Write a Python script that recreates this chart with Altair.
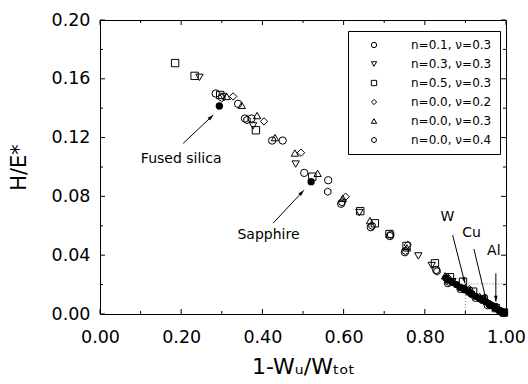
import math
import altair as alt
import pandas as pd

FONT = "DejaVu Sans"
PW, PH = 406, 294
X_MAX, Y_MAX = 1.0, 0.20

series_labels = ["n=0.1, ν=0.3", "n=0.3, ν=0.3", "n=0.5, ν=0.3",
                 "n=0.0, ν=0.2", "n=0.0, ν=0.3", "n=0.0, ν=0.4"]
HEX = "M0,-1L0.866,-0.5L0.866,0.5L0,1L-0.866,0.5L-0.866,-0.5Z"
series_shapes = ["circle", "triangle-down", "square", "diamond", "triangle-up", HEX]

s1_x = [0.285, 0.340, 0.357, 0.373, 0.424, 0.450, 0.503, 0.562, 0.594, 0.667, 0.714, 0.751, 0.828, 0.857, 0.888, 0.925, 0.955, 0.985]
s1_y = [0.150, 0.143, 0.133, 0.133, 0.118, 0.118, 0.096, 0.091, 0.075, 0.059, 0.053, 0.042, 0.030, 0.021, 0.017, 0.011, 0.006, 0.002]
s2_x = [0.245, 0.303, 0.377, 0.482, 0.639, 0.784, 0.817, 0.868, 0.905, 0.940, 0.970, 0.993]
s2_y = [0.161, 0.148, 0.128, 0.102, 0.069, 0.0395, 0.033, 0.022, 0.016, 0.010, 0.005, 0.001]
s3_x = [0.185, 0.233, 0.296, 0.384, 0.523, 0.641, 0.677, 0.713, 0.755, 0.825, 0.862, 0.894, 0.919, 0.945, 0.975, 0.995]
s3_y = [0.1707, 0.162, 0.149, 0.125, 0.0934, 0.070, 0.0617, 0.0544, 0.0463, 0.0345, 0.025, 0.022, 0.0152, 0.010, 0.004, 0.001]
s4_x = [0.328, 0.404, 0.495, 0.605, 0.758, 0.856, 0.910, 0.950, 0.980]
s4_y = [0.148, 0.131, 0.1097, 0.0798, 0.047, 0.025, 0.017, 0.009, 0.003]
s5_x = [0.312, 0.349, 0.387, 0.431, 0.480, 0.536, 0.598, 0.665, 0.756, 0.850, 0.900, 0.935, 0.965, 0.990]
s5_y = [0.148, 0.142, 0.135, 0.120, 0.1095, 0.0957, 0.0787, 0.0635, 0.045, 0.026, 0.018, 0.012, 0.006, 0.002]
s6_x = [0.300, 0.362, 0.561, 0.596, 0.670, 0.716, 0.752, 0.830, 0.858, 0.915, 0.960, 0.990]
s6_y = [0.147, 0.132, 0.0832, 0.076, 0.060, 0.054, 0.043, 0.029, 0.022, 0.014, 0.006, 0.001]

exp_x = [0.294, 0.520, 0.852, 0.858, 0.868, 0.878, 0.888, 0.898, 0.908, 0.915, 0.925, 0.935, 0.942, 0.950, 0.958, 0.965, 0.972, 0.978, 0.984, 0.990, 0.996]
exp_y = [0.1415, 0.090, 0.0245, 0.023, 0.0215, 0.020, 0.018, 0.0165, 0.015, 0.0135, 0.012, 0.0105, 0.0095, 0.0083, 0.007, 0.0058, 0.0045, 0.0035, 0.0025, 0.0015, 0.0006]

ann_text = ["Fused silica", "Sapphire", "W", "Cu", "Al"]
ann_x = [0.200, 0.415, 0.856, 0.915, 0.970]
ann_y = [0.1025, 0.0508, 0.063, 0.0527, 0.0401]

arr_x1 = [0.205, 0.427, 0.8685, 0.921, 0.975]
arr_y1 = [0.1161, 0.062, 0.0537, 0.0442, 0.0277]
arr_x2 = [0.279, 0.502, 0.899, 0.951, 0.975]
arr_y2 = [0.1354, 0.0841, 0.0209, 0.0095, 0.0084]

guide_x1 = [0.9, 0.9]
guide_y1 = [0.0205, 0.0]
guide_x2 = [1.0, 0.9]
guide_y2 = [0.0205, 0.0205]

x_major = [0.0, 0.2, 0.4, 0.6, 0.8, 1.0]
x_minor = [0.1, 0.3, 0.5, 0.7, 0.9]
y_major = [0.0, 0.04, 0.08, 0.12, 0.16, 0.20]
y_minor = [0.02, 0.06, 0.10, 0.14, 0.18]

rows = []
for lab, xs_, ys_ in zip(series_labels, [s1_x, s2_x, s3_x, s4_x, s5_x, s6_x],
                         [s1_y, s2_y, s3_y, s4_y, s5_y, s6_y]):
    for a, b in zip(xs_, ys_):
        rows.append({"x": a, "y": b, "series": lab})
df = pd.DataFrame(rows)
df_exp = pd.DataFrame({"x": exp_x, "y": exp_y})
df_ann = pd.DataFrame({"x": ann_x, "y": ann_y, "t": ann_text})
angles = []
for a1, b1, a2, b2 in zip(arr_x1, arr_y1, arr_x2, arr_y2):
    dxp = (a2 - a1) * PW / X_MAX
    dyp = (b2 - b1) * PH / Y_MAX
    angles.append(math.degrees(math.atan2(dxp, dyp)) % 360)
df_arr = pd.DataFrame({"x": arr_x1, "y": arr_y1, "x2": arr_x2, "y2": arr_y2, "ang": angles})
df_guide = pd.DataFrame({"x": guide_x1, "y": guide_y1, "x2": guide_x2, "y2": guide_y2})

xs = alt.Scale(domain=[0, X_MAX], nice=False, zero=False)
ys = alt.Scale(domain=[0, Y_MAX], nice=False, zero=False)

scatter = alt.Chart(df).mark_point(filled=False, size=54, strokeWidth=1, color="black", opacity=1).encode(
    x=alt.X("x:Q", scale=xs, axis=alt.Axis(orient="bottom", values=x_major, format=".2f", ticks=False,
            labelFlush=False, labelPadding=14, labelFontSize=17.5, title="1-Wᵤ/Wₜₒₜ", titleFontSize=22,
            titlePadding=11)),
    y=alt.Y("y:Q", scale=ys, axis=alt.Axis(orient="left", values=y_major, format=".2f", ticks=False,
            labelFlush=False, labelPadding=10, labelFontSize=17.5, title="H/E*", titleFontSize=21,
            titlePadding=22)),
    shape=alt.Shape("series:N", scale=alt.Scale(domain=series_labels, range=series_shapes),
                    legend=alt.Legend(title=None, orient="none", legendX=248, legendY=11,
                                      strokeColor="black", fillColor="white", padding=8,
                                      symbolSize=28, symbolStrokeWidth=1, symbolStrokeColor="black",
                                      symbolOffset=12, labelOffset=31, labelFontSize=12,
                                      labelFont=FONT, labelColor="black", rowPadding=7)),
)


def xticks(vals, edge, length):
    d = pd.DataFrame({"v": vals})
    y0 = PH if edge == "bottom" else 0
    y1 = PH - length if edge == "bottom" else length
    return alt.Chart(d).mark_rule(color="black", strokeWidth=1).encode(
        x=alt.X("v:Q", scale=xs, axis=None), y=alt.value(y0), y2=alt.value(y1))


def yticks(vals, edge, length):
    d = pd.DataFrame({"v": vals})
    x0 = 0 if edge == "left" else PW
    x1 = length if edge == "left" else PW - length
    return alt.Chart(d).mark_rule(color="black", strokeWidth=1).encode(
        y=alt.Y("v:Q", scale=ys, axis=None), x=alt.value(x0), x2=alt.value(x1))


ticks = [xticks(x_major, "bottom", 5), xticks(x_minor, "bottom", 3),
         xticks(x_major, "top", 5), xticks(x_minor, "top", 3),
         yticks(y_major, "left", 5), yticks(y_minor, "left", 3),
         yticks(y_major, "right", 5), yticks(y_minor, "right", 3)]

exp = alt.Chart(df_exp).mark_circle(size=54, color="black", opacity=1).encode(
    x=alt.X("x:Q", scale=xs, axis=None), y=alt.Y("y:Q", scale=ys, axis=None))

guides = alt.Chart(df_guide).mark_rule(color="#555555", strokeWidth=0.8, strokeDash=[1, 2]).encode(
    x=alt.X("x:Q", scale=xs, axis=None), y=alt.Y("y:Q", scale=ys, axis=None), x2="x2:Q", y2="y2:Q")

arrows = alt.Chart(df_arr).mark_rule(color="black", strokeWidth=1).encode(
    x=alt.X("x:Q", scale=xs, axis=None), y=alt.Y("y:Q", scale=ys, axis=None), x2="x2:Q", y2="y2:Q")

heads = alt.Chart(df_arr).mark_point(shape="M0,0L-0.6,2L0.6,2Z", filled=True, color="black", size=36, opacity=1).encode(
    x=alt.X("x2:Q", scale=xs, axis=None), y=alt.Y("y2:Q", scale=ys, axis=None),
    angle=alt.Angle("ang:Q", scale=None))

texts = alt.Chart(df_ann).mark_text(font=FONT, fontSize=14, color="black", align="center", baseline="alphabetic").encode(
    x=alt.X("x:Q", scale=xs, axis=None), y=alt.Y("y:Q", scale=ys, axis=None), text="t:N")

chart = alt.layer(guides, arrows, heads, exp, scatter, texts, *ticks).resolve_axis(
    x="independent", y="independent"
).properties(
    width=PW, height=PH,
    autosize=alt.AutoSizeParams(type="none"),
    padding={"left": 100, "top": 20, "right": 22, "bottom": 70},
).configure(font=FONT).configure_view(stroke="black", strokeWidth=1).configure_axis(
    grid=False, domain=False, labelColor="black", titleColor="black", labelFont=FONT, titleFont=FONT,
    titleFontWeight="normal"
)

chart.save("out.html", embed_options={"renderer": "svg", "actions": False})
